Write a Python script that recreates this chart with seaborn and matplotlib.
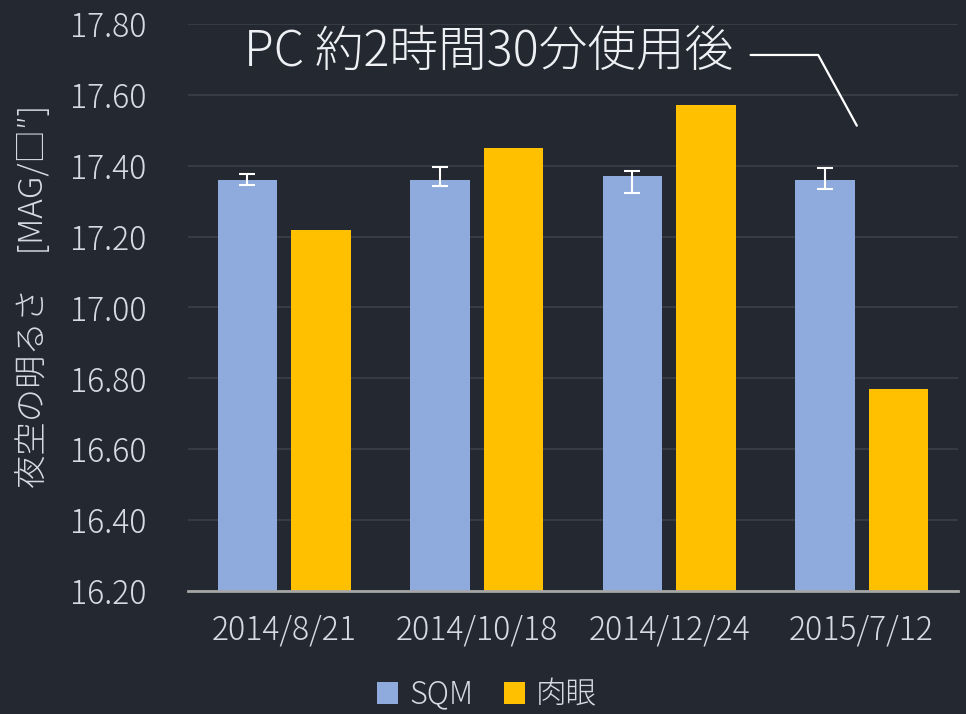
import matplotlib
matplotlib.use("Agg")
import matplotlib.pyplot as plt
from matplotlib.lines import Line2D
from matplotlib.patches import Patch
import seaborn as sns
import pandas as pd

# data
dates = ["2014/8/21", "2014/10/18", "2014/12/24", "2015/7/12"]
sqm = [17.36, 17.36, 17.37, 17.36]
sqm_low = [17.345, 17.342, 17.323, 17.334]
sqm_high = [17.376, 17.396, 17.385, 17.393]
naked_eye = [17.22, 17.45, 17.57, 16.77]
series = ["SQM", "肉眼"]

bg = "#232831"
text_col = "#d6dae3"
colors = {"SQM": "#8faadc", "肉眼": "#ffc000"}

sns.set_theme(style="dark")
plt.rcParams["font.family"] = ["Noto Sans CJK JP", "DejaVu Sans"]

df = pd.DataFrame({
    "date": dates * 2,
    "value": sqm + naked_eye,
    "series": [series[0]] * len(dates) + [series[1]] * len(dates),
})

fig = plt.figure(figsize=(9.66, 7.14), dpi=100, facecolor=bg)
ax = fig.add_axes([0.1946, 0.1723, 0.797, 0.7941])
ax.set_facecolor(bg)

sns.barplot(data=df, x="date", y="value", hue="series", palette=colors,
            width=0.764, gap=0.19, errorbar=None, legend=False, ax=ax,
            saturation=1, edgecolor="none")

# error bars on the SQM bars
xs = [p.get_x() + p.get_width() / 2 for p in ax.containers[0]]
yerr = [[v - lo for v, lo in zip(sqm, sqm_low)],
        [hi - v for v, hi in zip(sqm, sqm_high)]]
ax.errorbar(xs, sqm, yerr=yerr, fmt="none", ecolor="white",
            elinewidth=1.5, capsize=6, capthick=1.5, zorder=5)

ax.set_ylim(16.2, 17.8)
ax.set_yticks([16.2 + 0.2 * i for i in range(9)])
ax.set_yticklabels([f"{16.2 + 0.2 * i:.2f}" for i in range(9)])
ax.set_xlim(-0.5, len(dates) - 0.5)

ax.yaxis.grid(True, color="#3b4049", linewidth=1.2)
ax.xaxis.grid(False)
ax.set_axisbelow(True)
for side in ["top", "right", "left"]:
    ax.spines[side].set_visible(False)
ax.spines["bottom"].set_color("#a6a6a6")
ax.spines["bottom"].set_linewidth(2)

ax.tick_params(axis="y", colors=text_col, labelsize=23, length=0, pad=30)
ax.tick_params(axis="x", colors=text_col, labelsize=23, length=0, pad=16)
for lbl in ax.get_xticklabels() + ax.get_yticklabels():
    lbl.set_fontweight("light")
ax.set_xlabel("")
ax.set_ylabel("夜空の明るさ　[MAG/□″]", color=text_col, fontsize=24,
              fontweight="light")
ax.yaxis.set_label_coords(-0.178, 0.52)

# callout text with leader line
fig.text(0.253, 0.927, "PC 約2時間30分使用後", color="#eef0f4", fontsize=35,
         fontweight="light", ha="left", va="center")
fig.add_artist(Line2D([0.777, 0.847, 0.887], [0.923, 0.923, 0.824],
                      transform=fig.transFigure, color="white", linewidth=1.6))

handles = [Patch(facecolor=colors[s], edgecolor="none", label=s) for s in series]
leg = fig.legend(handles=handles, loc="center", bbox_to_anchor=(0.504, 0.027),
                 ncol=2, frameon=False, handlelength=0.7,
                 handleheight=0.7, handletextpad=0.35, columnspacing=1.0,
                 prop={"weight": "light", "size": 22})
for t in leg.get_texts():
    t.set_color(text_col)

fig.savefig("out.png", dpi=100, facecolor=bg)
